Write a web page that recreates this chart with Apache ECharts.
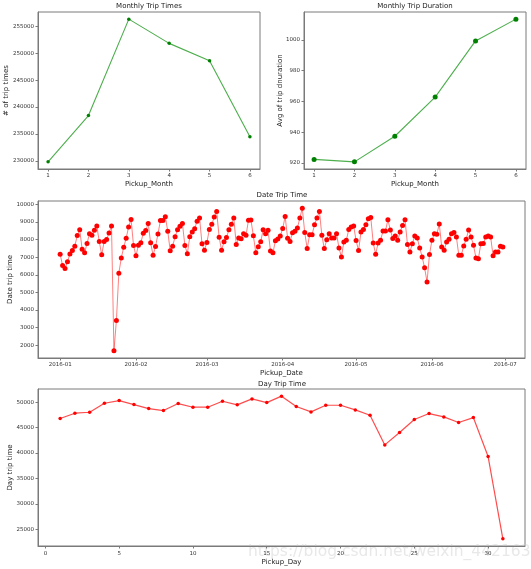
<!DOCTYPE html>
<html><head><meta charset="utf-8">
<script src="https://cdn.jsdelivr.net/npm/echarts@6/dist/echarts.min.js"></script>
<style>html,body{margin:0;padding:0;background:#fff}#c{width:531px;height:569px}</style>
</head><body><div id="c"></div>
<script>
// ---- data ----
const months = [1, 2, 3, 4, 5, 6];
const monthlyTrips = [229850, 238430, 256290, 251800, 248600, 234500];
const monthlyDuration = [922.2, 920.6, 937.3, 962.8, 999.4, 1013.6];
const monthTickLabels = [1, 2, 3, 4, 5, 6];
const tripTickLabels = [230000, 235000, 240000, 245000, 250000, 255000];
const durationTickLabels = [920, 940, 960, 980, 1000];

const dateStart = '2016-01-01';
const dateTrips = [
  // Jan
  7170, 6530, 6360, 6740, 7190, 7380, 7630, 8230, 8560, 7460, 7260, 7780, 8340, 8250, 8530, 8770,
  7890, 7140, 7900, 8010, 8380, 8770, 1680, 3400, 6090, 6960, 7570, 8085, 8720, 9150, 7670,
  // Feb
  7080, 7680, 7830, 8370, 8520, 8910, 7830, 7110, 7610, 8320, 9090, 9090, 9300, 8480, 7370,
  7630, 8170, 8560, 8760, 8910, 7670, 7200, 8160, 8440, 8620, 9050, 9230, 7760, 7400,
  // Mar
  7840, 8570, 8870, 9280, 9600, 8140, 7400, 7880, 8120, 8560, 8880, 9230, 7730, 8090, 8050, 8340,
  8250, 9100, 9120, 8220, 7250, 7600, 7880, 8560, 8340, 8540, 7350, 7250, 7930, 8040, 8200,
  // Apr
  8630, 9320, 8080, 7900, 8390, 8470, 8660, 9230, 9790, 8400, 7490, 8280, 8280, 8850, 9230,
  9600, 8250, 7490, 8000, 8340, 8090, 8090, 8340, 7530, 7020, 7870, 7960, 8570, 8720, 8770,
  // May
  7950, 7380, 8430, 8570, 8850, 9190, 9260, 7810, 7170, 7810, 7960, 8490, 8490, 9130, 8550, 8060,
  8210, 7960, 8430, 8810, 9130, 7720, 7300, 7770, 8210, 8090, 7530, 7020, 6400, 5600, 7150,
  // Jun
  7960, 8330, 8300, 8890, 7580, 7400, 7870, 8020, 8340, 8400, 8150, 7110, 7110, 7640, 8020,
  8550, 8150, 7680, 6960, 6920, 7770, 7780, 8150, 8210, 8150, 7080, 7300, 7300, 7620, 7580
];
const dateTickLabels = ['2016-01', '2016-02', '2016-03', '2016-04', '2016-05', '2016-06', '2016-07'];
const dateYTickLabels = [2000, 3000, 4000, 5000, 6000, 7000, 8000, 9000, 10000];

const days = [1,2,3,4,5,6,7,8,9,10,11,12,13,14,15,16,17,18,19,20,21,22,23,24,25,26,27,28,29,30,31];
const dayTrips = [46790, 47840, 48030, 49800, 50330, 49540, 48750, 48360, 49740, 49020, 49020,
  50200, 49480, 50660, 49930, 51200, 49150, 48100, 49410, 49410, 48490, 47440, 41600, 44030,
  46590, 47770, 47110, 46000, 46980, 39300, 23100];
const dayTickLabels = [0, 5, 10, 15, 20, 25, 30];
const dayYTickLabels = [25000, 30000, 35000, 40000, 45000, 50000];

// ---- helpers ----
const DAY = 86400000;
const t0 = Date.parse(dateStart + 'T00:00:00Z');
const dayIndex = s => Math.round((Date.parse(s + '-01T00:00:00Z') - t0) / DAY);
const dateTickPos = dateTickLabels.map(dayIndex);
const datePoints = dateTrips.map((v, i) => [i, v]);

function pad(arr) {
  const mn = Math.min(...arr), mx = Math.max(...arr), p = (mx - mn) * 0.05;
  return { min: mn - p, max: mx + p };
}
const FONT = 'DejaVu Sans';
const AX = '#7a7a7a';
function xAxis(grid, ext, ticks, name, gap, fmt, margin) {
  return {
    type: 'value', gridIndex: grid, min: ext.min, max: ext.max,
    name: name, nameLocation: 'middle', nameGap: gap, nameMoveOverlap: false,
    nameTextStyle: { fontFamily: FONT, fontSize: 7, color: '#222' },
    axisLine: { show: true, onZero: false, lineStyle: { color: AX, width: 1 } },
    axisTick: { show: true, length: 2.5, lineStyle: { color: AX }, customValues: ticks },
    axisLabel: { fontFamily: FONT, fontSize: 5.5, color: '#333', margin: margin, customValues: ticks,
      formatter: fmt || (v => String(v)) },
    splitLine: { show: false }
  };
}
function yAxis(grid, ext, ticks, name, gap) {
  return {
    type: 'value', gridIndex: grid, min: ext.min, max: ext.max,
    name: name, nameLocation: 'middle', nameGap: gap, nameMoveOverlap: false,
    nameTextStyle: { fontFamily: FONT, fontSize: 7, color: '#222' },
    axisLine: { show: true, onZero: false, lineStyle: { color: AX, width: 1 } },
    axisTick: { show: true, length: 2.5, lineStyle: { color: AX }, customValues: ticks },
    axisLabel: { fontFamily: FONT, fontSize: 5.5, color: '#333', margin: 4, customValues: ticks,
      formatter: v => String(v) },
    splitLine: { show: false }
  };
}
function title(text, x, y) {
  return { text: text, left: x, top: y, textAlign: 'center', padding: 0,
    textStyle: { fontFamily: FONT, fontSize: 7, fontWeight: 'normal', color: '#222' } };
}

const chart = echarts.init(document.getElementById('c'), null, { renderer: 'canvas' });
const gridStyle = { show: true, borderColor: AX, borderWidth: 1, containLabel: false, outerBoundsMode: 'none' };
chart.setOption({
  animation: false,
  backgroundColor: '#fff',
  title: [
    title('Monthly Trip Times', 149, 3),
    title('Monthly Trip Duration', 415, 3),
    title('Date Trip Time', 282, 192),
    title('Day Trip Time', 282, 380.5)
  ],
  grid: [
    Object.assign({ left: 38, top: 12, width: 222, height: 157 }, gridStyle),
    Object.assign({ left: 304, top: 12, width: 222, height: 157 }, gridStyle),
    Object.assign({ left: 38, top: 201, width: 487, height: 157 }, gridStyle),
    Object.assign({ left: 38, top: 389, width: 487, height: 157 }, gridStyle)
  ],
  xAxis: [
    xAxis(0, pad(months), monthTickLabels, 'Pickup_Month', 11.5, null, 4),
    xAxis(1, pad(months), monthTickLabels, 'Pickup_Month', 11.5, null, 4),
    xAxis(2, pad([0, dateTrips.length - 1]), dateTickPos, 'Pickup_Date', 11.5,
      v => { const i = dateTickPos.indexOf(Math.round(v)); return i >= 0 ? dateTickLabels[i] : ''; }, 3.5),
    xAxis(3, pad(days), dayTickLabels, 'Pickup_Day', 12.5, null, 4.5)
  ],
  yAxis: [
    yAxis(0, pad(monthlyTrips), tripTickLabels, '# of trip times', 28),
    yAxis(1, pad(monthlyDuration), durationTickLabels, 'Avg of trip dnuration', 20),
    yAxis(2, pad(dateTrips), dateYTickLabels, 'Date trip time', 24),
    yAxis(3, pad(dayTrips), dayYTickLabels, 'Day trip time', 24)
  ],
  series: [
    { type: 'line', xAxisIndex: 0, yAxisIndex: 0, data: months.map((m, i) => [m, monthlyTrips[i]]),
      symbol: 'circle', symbolSize: 3.5, lineStyle: { color: 'rgba(0,140,0,0.7)', width: 1.1 },
      itemStyle: { color: '#008000' } },
    { type: 'line', xAxisIndex: 1, yAxisIndex: 1, data: months.map((m, i) => [m, monthlyDuration[i]]),
      symbol: 'circle', symbolSize: 5, lineStyle: { color: 'rgba(0,140,0,0.7)', width: 1.1 },
      itemStyle: { color: '#008000' } },
    { type: 'line', xAxisIndex: 2, yAxisIndex: 2, data: datePoints,
      symbol: 'circle', symbolSize: 5, lineStyle: { color: 'rgba(255,0,0,0.5)', width: 1 },
      itemStyle: { color: '#ff0000' } },
    { type: 'line', xAxisIndex: 3, yAxisIndex: 3, data: days.map((d, i) => [d, dayTrips[i]]),
      symbol: 'circle', symbolSize: 3.5, lineStyle: { color: 'rgba(255,0,0,0.7)', width: 1.2 },
      itemStyle: { color: '#ff0000' } }
  ],
  graphic: [
    { type: 'text', left: 248, top: 544, silent: true,
      style: { text: 'https://blog.csdn.net/weixin_44216391', fontFamily: FONT, fontSize: 15.5,
        fill: 'rgba(205,205,205,0.45)' } }
  ]
});
</script>
</body></html>
